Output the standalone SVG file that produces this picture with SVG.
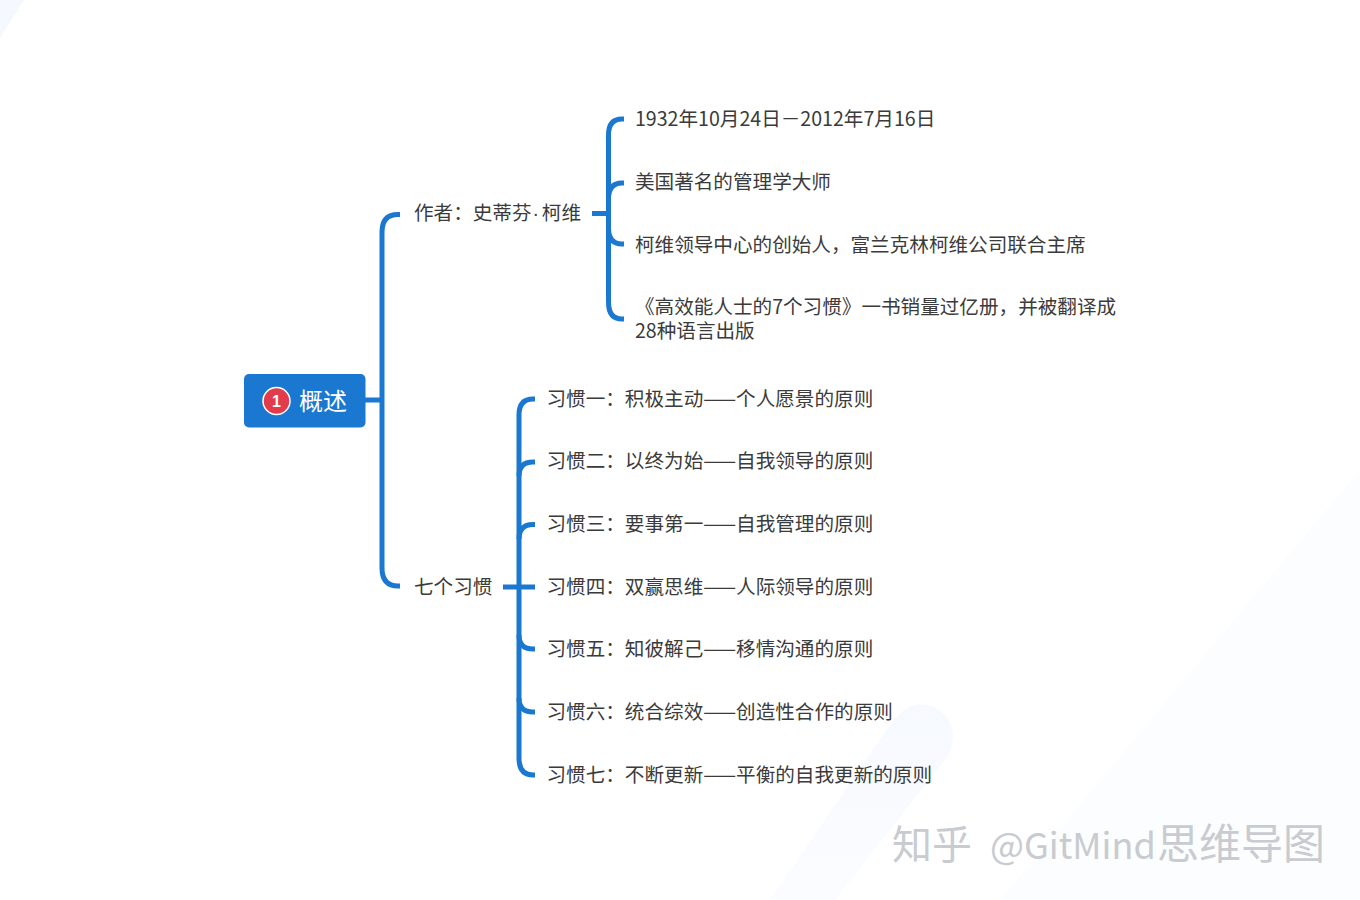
<svg xmlns="http://www.w3.org/2000/svg" width="1360" height="900" viewBox="0 0 1360 900">
<style>
.t{font-family:"Noto Sans CJK SC","Noto Sans",sans-serif;font-size:19.6px;fill:#3b3b3b}
.c{fill:none;stroke:#1b78d0;stroke-width:5}
.w{font-family:"Noto Sans CJK SC",sans-serif;font-size:40px;fill:#c8cbcf}
</style>
<defs>
<linearGradient id="band" x1="0" y1="0" x2="0" y2="1"><stop offset="0" stop-color="#f6f9fe"/><stop offset="1" stop-color="#fbfcff"/></linearGradient>
</defs>
<rect width="1360" height="900" fill="#fff"/>
<g id="background">
<path d="M0 0H24L0 38Z" fill="#f5f8fe"/>
<path d="M770 900L892 722Q912 696 936 708Q962 724 948 756L835 900Z" fill="url(#band)"/>
<path d="M1000 900L1360 470V900Z" fill="#fcfdfe"/>
</g>
<g id="connectors">
<path class="c" d="M400 214.500H398Q382 214.500 382 232V568Q382 586 398 586H400"/>
<path class="c" d="M365 400H382"/>
<path class="c" d="M592 213.500H609"/>
<path class="c" d="M624 119H622Q608.500 119 608.500 135V302Q608.500 319 622 319H624"/>
<path class="c" d="M624 183H622Q608.500 183 608.500 199"/>
<path class="c" d="M608.500 228Q608.500 244 622 244H624"/>
<path class="c" d="M503 587H535"/>
<path class="c" d="M535 399H533Q519 399 519 415V758Q519 775 533 775H535"/>
<path class="c" d="M535 462H533Q519 462 519 476"/>
<path class="c" d="M535 524.500H533Q519 524.500 519 539"/>
<path class="c" d="M519 635Q519 649 533 649H535"/>
<path class="c" d="M519 698Q519 712 533 712H535"/>
</g>
<g id="root">
<rect x="244" y="374" width="121.500" height="53.500" rx="5" fill="#1b78d0"/>
<circle cx="276.500" cy="401" r="13.500" fill="#e23c4c" stroke="#fff" stroke-width="1.500"/>
<text x="276.500" y="407" text-anchor="middle" font-family="'Liberation Sans',sans-serif" font-weight="700" font-size="16" fill="#fff">1</text>
<text x="299" y="409.500" font-family="'Noto Sans CJK SC',sans-serif" font-size="24" fill="#fff">概述</text>
</g>
<g id="n-author"><text class="t" x="414" y="220">作者：史蒂芬<tspan font-family="'Liberation Sans',sans-serif" x="532.500">·</tspan><tspan x="541.800">柯维</tspan></text></g>
<g id="n-a1"><text class="t" x="635" y="126">1932年10月24日－2012年7月16日</text></g>
<g id="n-a2"><text class="t" x="635" y="189">美国著名的管理学大师</text></g>
<g id="n-a3"><text class="t" x="635" y="252">柯维领导中心的创始人，富兰克林柯维公司联合主席</text></g>
<g id="n-a4"><text class="t" x="635" y="314">《高效能人士的7个习惯》一书销量过亿册，并被翻译成<tspan x="635" y="338">28种语言出版</tspan></text></g>
<g id="n-habits"><text class="t" x="414" y="593.500">七个习惯</text></g>
<g id="n-h1"><text class="t" x="546.500" y="406">习惯一：积极主动——个人愿景的原则</text></g>
<g id="n-h2"><text class="t" x="546.500" y="468">习惯二：以终为始——自我领导的原则</text></g>
<g id="n-h3"><text class="t" x="546.500" y="531">习惯三：要事第一——自我管理的原则</text></g>
<g id="n-h4"><text class="t" x="546.500" y="593.500">习惯四：双赢思维——人际领导的原则</text></g>
<g id="n-h5"><text class="t" x="546.500" y="656">习惯五：知彼解己——移情沟通的原则</text></g>
<g id="n-h6"><text class="t" x="546.500" y="719">习惯六：统合综效——创造性合作的原则</text></g>
<g id="n-h7"><text class="t" x="546.500" y="782">习惯七：不断更新——平衡的自我更新的原则</text></g>
<g id="watermark">
<text class="w" y="859"><tspan x="892">知乎</tspan><tspan x="990" font-size="36">@GitMind</tspan><tspan x="1157" font-size="42">思维导图</tspan></text>
</g>
</svg>
